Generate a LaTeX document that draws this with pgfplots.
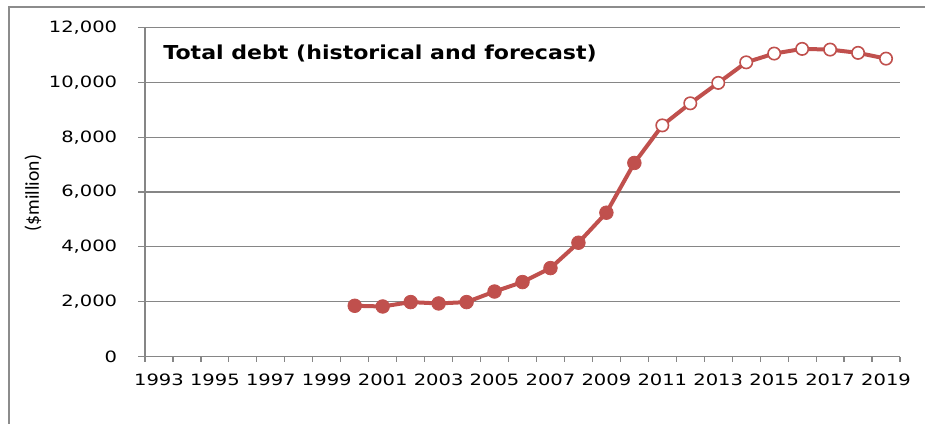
\documentclass[border=0pt]{standalone}
\usepackage{pgfplots}
\pgfplotsset{compat=1.18}
\usepackage{pgfplotstable}
\usepackage{fontspec}
\setmainfont[FakeStretch=1.25]{DejaVu Sans}
\newfontfamily\titlefont[FakeStretch=1.15]{DejaVu Sans}
\newfontfamily\labelfont{Carlito}
\definecolor{linered}{HTML}{C0504D}
\definecolor{axisgray}{HTML}{868686}
\definecolor{framegray}{HTML}{8C8C8C}
\pgfplotstableread{
year debt
2000 1850
2001 1825
2002 1985
2003 1935
2004 1985
2005 2370
2006 2715
2007 3225
2008 4150
2009 5245
2010 7060
2011 8430
2012 9235
2013 9980
2014 10730
2015 11050
2016 11220
2017 11195
2018 11075
2019 10865
}\data
\begin{document}
\begin{tikzpicture}
\useasboundingbox (0,0) rectangle (462.5pt,-211.5pt);
\begin{scope}
\clip (0,0) rectangle (462.5pt,-211.5pt);
\draw[framegray, line width=0.6pt] (4.5pt,-3.5pt) rectangle (470pt,-220pt);
\end{scope}
\begin{axis}[
  width=377.5pt, height=164.5pt, scale only axis,
  at={(72.5pt,-178.25pt)}, anchor=south west,
  xmin=1992.5, xmax=2019.5, ymin=0, ymax=12000,
  axis x line=bottom, axis y line=left,
  axis line style={-, draw=axisgray, line width=0.6pt},
  tick align=outside,
  xtick={1993,1995,...,2019},
  major x tick style={draw=none},
  minor xtick={1992.5,1993.5,...,2019.5},
  minor x tick style={draw=axisgray, line width=0.6pt},
  minor tick length=2.5pt,
  ytick={0,2000,...,12000},
  major y tick style={draw=axisgray, line width=0.6pt},
  major tick length=3.5pt,
  ymajorgrids, grid style={draw=axisgray, line width=0.6pt},
  scaled y ticks=false,
  /pgf/number format/assume math mode=true,
  xticklabel style={/pgf/number format/1000 sep={}, font=\fontsize{7.8}{9}\selectfont, yshift=-1.6pt},
  yticklabel style={/pgf/number format/fixed, /pgf/number format/1000 sep={,}, font=\fontsize{7.8}{9}\selectfont, xshift=-6.9pt},
]
\addplot[linered, line width=2pt, no markers] table[x=year,y=debt] {\data};
\addplot[only marks, mark=*, mark size=3.4pt, mark options={fill=linered, draw=linered}, restrict x to domain=2000:2010] table[x=year,y=debt] {\data};
\addplot[only marks, mark=*, mark size=3.1pt, mark options={fill=white, draw=linered, line width=0.8pt}, restrict x to domain=2011:2019] table[x=year,y=debt] {\data};
\end{axis}
\node[anchor=base west, inner sep=0pt, font=\titlefont\bfseries\fontsize{9.6}{11}\selectfont] at (81.5pt,-29.65pt) {Total debt (historical and forecast)};
\node[rotate=90, inner sep=0pt, font=\labelfont\fontsize{9.8}{11}\selectfont] at (16.5pt,-96.5pt) {(\$million)};
\end{tikzpicture}
\end{document}
